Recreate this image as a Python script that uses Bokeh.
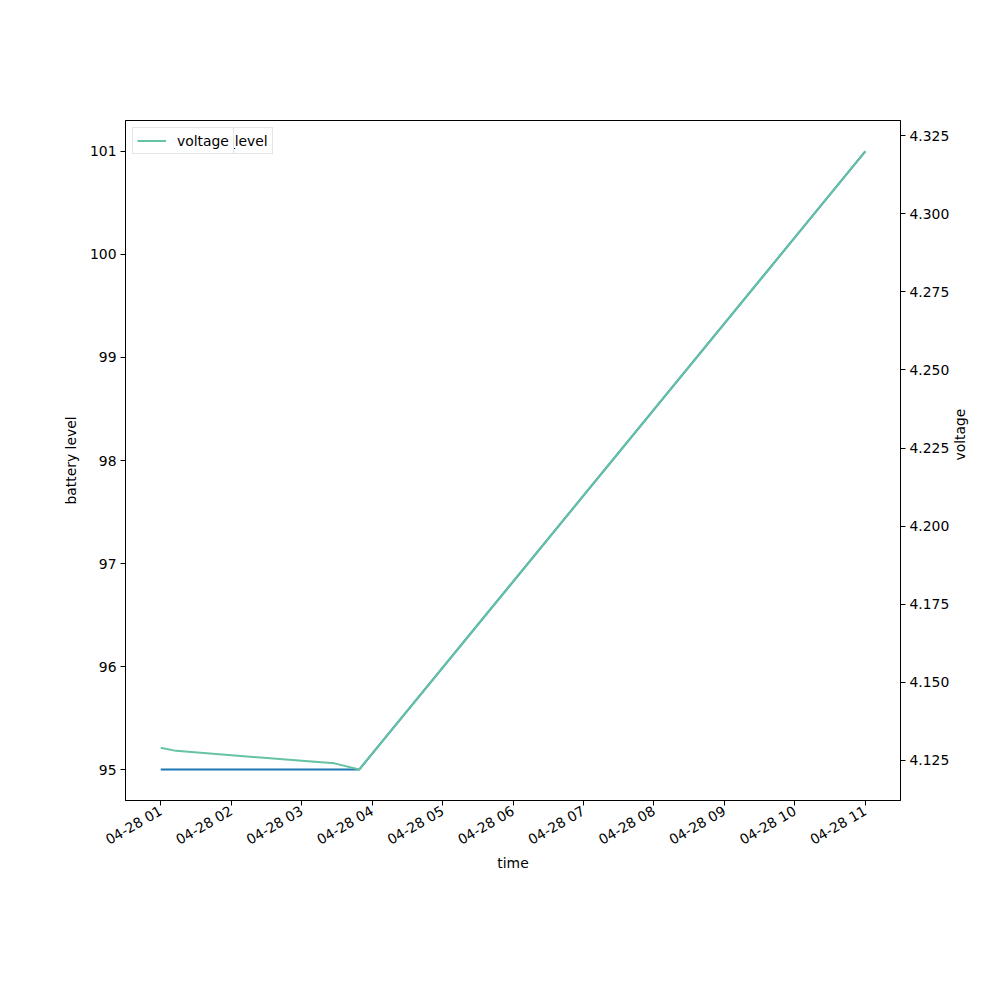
import math
from datetime import datetime
from bokeh.plotting import figure
from bokeh.models import (Range1d, LinearAxis, Legend, LegendItem, FixedTicker,
                          SingleIntervalTicker, DatetimeTickFormatter, NumeralTickFormatter)
from bokeh.embed import file_html
from bokeh.resources import INLINE

# ---- data ----
times = ["2024-04-28 01:00", "2024-04-28 01:13", "2024-04-28 03:28",
         "2024-04-28 03:49", "2024-04-28 11:00"]
battery_level = [95, 95, 95, 95, 101]
voltage = [4.129, 4.128, 4.124, 4.122, 4.320]
tick_hours = ["2024-04-28 01:00", "2024-04-28 02:00", "2024-04-28 03:00", "2024-04-28 04:00",
              "2024-04-28 05:00", "2024-04-28 06:00", "2024-04-28 07:00", "2024-04-28 08:00",
              "2024-04-28 09:00", "2024-04-28 10:00", "2024-04-28 11:00"]

t = [datetime.strptime(s, "%Y-%m-%d %H:%M") for s in times]
ticks = [datetime.strptime(s, "%Y-%m-%d %H:%M").timestamp() * 1000 for s in tick_hours]

def pad(lo, hi, frac=0.05):
    d = (hi - lo) * frac
    return lo - d, hi + d

t0 = t[0].timestamp() * 1000
t1 = t[-1].timestamp() * 1000
xs, xe = pad(t0, t1)
ys, ye = pad(min(battery_level), max(battery_level))
vs, ve = pad(min(voltage), max(voltage))

FONT = "DejaVu Sans"
FS = "13.9px"

p = figure(width=990, height=990, x_axis_type="datetime", output_backend="svg",
           toolbar_location=None, x_range=Range1d(xs, xe), y_range=Range1d(ys, ye),
           min_border_left=125, min_border_right=90, min_border_top=120, min_border_bottom=190)
p.xgrid.visible = False
p.ygrid.visible = False
p.outline_line_color = "black"
p.outline_line_width = 1
p.background_fill_color = "white"
p.border_fill_color = "white"

p.extra_y_ranges = {"v": Range1d(vs, ve)}

r1 = p.line(t, battery_level, line_color="#1f77b4", line_width=2)
r2 = p.line(t, voltage, line_color="#66c2a5", line_width=2, y_range_name="v")

# axes
xa = p.xaxis[0]
xa.ticker = FixedTicker(ticks=ticks, minor_ticks=[])
xa.formatter = DatetimeTickFormatter(hours="%m-%d %H", minutes="%m-%d %H", days="%m-%d %H")
xa.major_label_orientation = math.pi / 6
xa.axis_label = "time"

ya = p.yaxis[0]
ya.ticker = SingleIntervalTicker(interval=1, num_minor_ticks=0)
ya.axis_label = "battery level"

ra = LinearAxis(y_range_name="v", axis_label="voltage",
                ticker=SingleIntervalTicker(interval=0.025, num_minor_ticks=0),
                formatter=NumeralTickFormatter(format="0.000"))
ra.axis_label_orientation = math.pi / 2
p.add_layout(ra, "right")

for a in [xa, ya, ra]:
    a.major_label_text_font = FONT
    a.major_label_text_font_size = FS
    a.major_label_text_color = "black"
    a.axis_label_text_font = FONT
    a.axis_label_text_font_size = FS
    a.axis_label_text_font_style = "normal"
    a.axis_label_text_color = "black"
    a.major_tick_out = 5
    a.major_tick_in = 0
    a.minor_tick_out = 0
    a.minor_tick_in = 0
    a.axis_line_color = "black"
    a.major_tick_line_color = "black"
    a.major_label_standoff = 4
    a.axis_label_standoff = 8
xa.axis_label_standoff = -3

def mk_legend(label, r):
    leg = Legend(items=[LegendItem(label=label, renderers=[r])], location="top_left",
                 margin=7, padding=4, spacing=0, glyph_width=29, glyph_height=17,
                 label_height=17, label_standoff=11,
                 label_text_font=FONT, label_text_font_size=FS, label_text_color="black",
                 border_line_color="#cccccc", border_line_width=1,
                 background_fill_color="white", background_fill_alpha=1.0)
    return leg

p.add_layout(mk_legend("battery_level", r1))
p.add_layout(mk_legend("voltage", r2))

open("out.html", "w").write(file_html(p, INLINE))
